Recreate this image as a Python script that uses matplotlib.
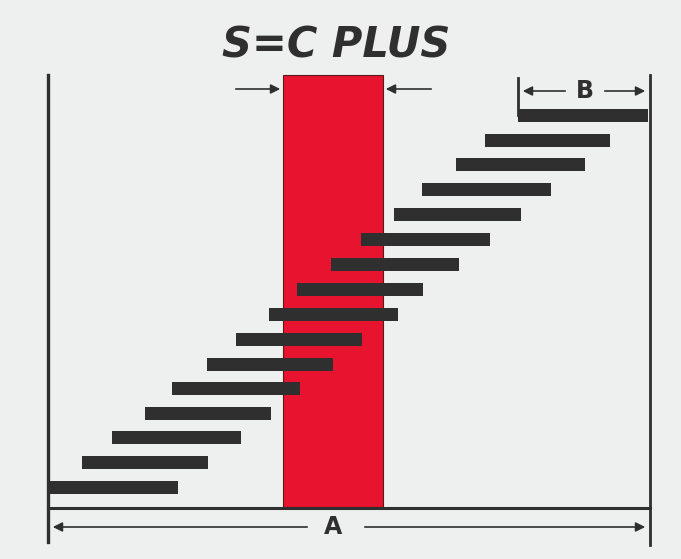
import matplotlib.pyplot as plt
from matplotlib.patches import Rectangle

# bar rows (pixel rows of the scan, bottom to top) and their left/right ends
bar_y = [487, 462, 437, 413, 388, 364, 339, 314, 289, 264, 239, 214, 189, 164, 140, 115]
bar_start = [48, 82, 112, 145, 172, 207, 236, 269, 297, 331, 361, 394, 422, 456, 485, 518]
bar_end = [178, 208, 241, 271, 300, 333, 362, 398, 423, 459, 490, 521, 551, 585, 610, 648]

title = "S=C PLUS"
label_a = "A"
label_b = "B"

dark = "#2f2f2f"
bg = "#eef0ef"

fig = plt.figure(figsize=(6.81, 5.59), dpi=100)
fig.patch.set_facecolor(bg)
ax = fig.add_axes([0, 0, 1, 1])
ax.set_xlim(0, 681)
ax.set_ylim(559, 0)
ax.axis("off")
ax.set_facecolor(bg)

# red band
ax.add_patch(Rectangle((283, 75), 100, 432, facecolor="#e8132f", edgecolor="#5a1a1a", lw=0.8, zorder=1))

# bars
widths = [e - s for s, e in zip(bar_start, bar_end)]
ax.barh(bar_y, widths, left=bar_start, height=13, color=dark, zorder=3)

# frame lines
ax.plot([48, 48], [75, 542], color=dark, lw=2.4, zorder=4)
ax.plot([650, 650], [75, 545], color=dark, lw=2.0, zorder=4)
ax.plot([48, 650], [508, 508], color=dark, lw=2.2, zorder=4)
ax.plot([518, 518], [78, 115], color=dark, lw=2.0, zorder=4)

# dimension A
arr = dict(arrowstyle="-|>", color=dark, lw=1.2, mutation_scale=14)
ax.annotate("", xy=(50, 527), xytext=(310, 527), arrowprops=arr)
ax.annotate("", xy=(648, 527), xytext=(362, 527), arrowprops=arr)
ax.text(333, 527, label_a, ha="center", va="center", fontsize=17, fontweight="bold", color=dark)

# dimension B
ax.annotate("", xy=(520, 91), xytext=(568, 91), arrowprops=arr)
ax.annotate("", xy=(648, 91), xytext=(602, 91), arrowprops=arr)
ax.text(585, 91, label_b, ha="center", va="center", fontsize=17, fontweight="bold", color=dark)

# red band width arrows
ax.annotate("", xy=(283, 89), xytext=(233, 89), arrowprops=arr)
ax.annotate("", xy=(383, 89), xytext=(434, 89), arrowprops=arr)

ax.text(336, 45, title, ha="center", va="center", fontsize=30, fontweight="heavy",
        style="italic", color=dark)

fig.savefig("out.png", dpi=100, facecolor=bg)
